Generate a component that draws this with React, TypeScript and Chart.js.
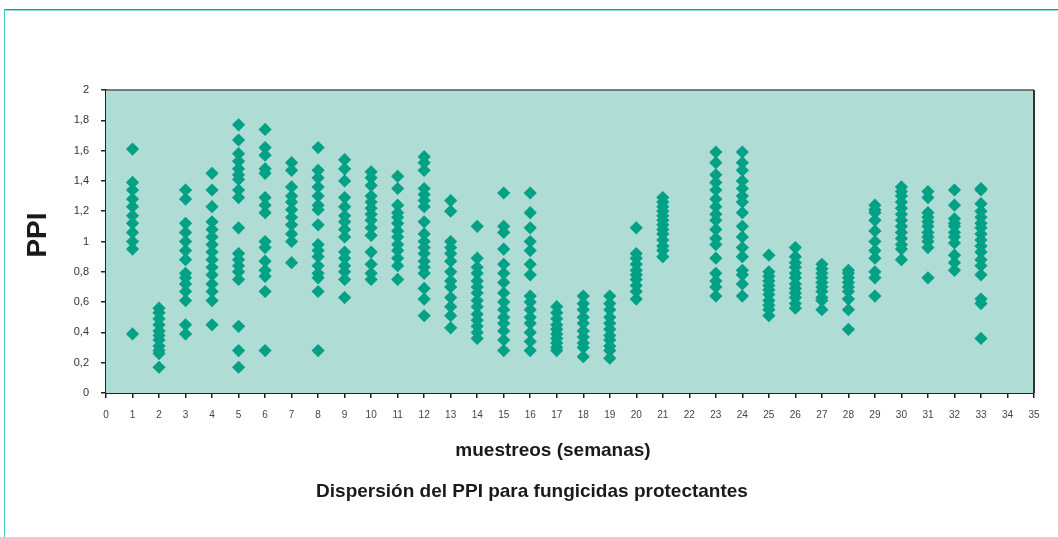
import React, { useEffect, useRef } from "react";
import { Chart, registerables } from "chart.js";

Chart.register(...registerables);

// Sampling weeks (x) and PPI values read for each week
const xTicks = Array.from({ length: 36 }, (_, i) => i);
const yTicks = [0, 0.2, 0.4, 0.6, 0.8, 1, 1.2, 1.4, 1.6, 1.8, 2];

const w01 = [1.61, 1.39, 1.34, 1.28, 1.23, 1.17, 1.12, 1.06, 1.0, 0.95, 0.39];
const w02 = [0.56, 0.53, 0.49, 0.45, 0.41, 0.38, 0.35, 0.31, 0.28, 0.26, 0.17];
const w03 = [1.34, 1.28, 1.12, 1.06, 1.0, 0.94, 0.88, 0.79, 0.76, 0.72, 0.67, 0.61, 0.45, 0.39];
const w04 = [1.45, 1.34, 1.23, 1.13, 1.08, 1.03, 0.98, 0.93, 0.88, 0.83, 0.78, 0.72, 0.67, 0.61, 0.45];
const w05 = [1.77, 1.67, 1.58, 1.53, 1.48, 1.44, 1.41, 1.34, 1.29, 1.09, 0.92, 0.88, 0.84, 0.8, 0.75, 0.44, 0.28, 0.17];
const w06 = [1.74, 1.62, 1.57, 1.48, 1.45, 1.29, 1.24, 1.19, 1.0, 0.96, 0.87, 0.81, 0.77, 0.67, 0.28];
const w07 = [1.52, 1.47, 1.36, 1.3, 1.26, 1.21, 1.16, 1.11, 1.05, 1.0, 0.86];
const w08 = [1.62, 1.47, 1.42, 1.36, 1.3, 1.24, 1.21, 1.11, 0.98, 0.94, 0.9, 0.84, 0.79, 0.76, 0.67, 0.28];
const w09 = [1.54, 1.48, 1.4, 1.29, 1.23, 1.17, 1.13, 1.08, 1.03, 0.93, 0.89, 0.84, 0.8, 0.75, 0.63];
const w10 = [1.46, 1.42, 1.37, 1.3, 1.26, 1.22, 1.18, 1.14, 1.09, 1.04, 0.93, 0.85, 0.79, 0.75];
const w11 = [1.43, 1.35, 1.24, 1.19, 1.16, 1.12, 1.07, 1.03, 0.98, 0.94, 0.89, 0.84, 0.75];
const w12 = [1.56, 1.52, 1.47, 1.35, 1.31, 1.27, 1.23, 1.13, 1.05, 1.0, 0.96, 0.92, 0.87, 0.83, 0.79, 0.69, 0.62, 0.51];
const w13 = [1.27, 1.2, 1.0, 0.96, 0.92, 0.87, 0.8, 0.74, 0.7, 0.63, 0.57, 0.51, 0.43];
const w14 = [1.1, 0.89, 0.83, 0.79, 0.74, 0.7, 0.66, 0.61, 0.57, 0.52, 0.48, 0.44, 0.4, 0.36];
const w15 = [1.32, 1.1, 1.06, 0.95, 0.85, 0.79, 0.73, 0.66, 0.6, 0.55, 0.5, 0.46, 0.41, 0.35, 0.28];
const w16 = [1.32, 1.19, 1.09, 1.0, 0.94, 0.85, 0.78, 0.64, 0.6, 0.55, 0.5, 0.46, 0.4, 0.34, 0.28];
const w17 = [0.57, 0.53, 0.49, 0.45, 0.42, 0.39, 0.36, 0.33, 0.3, 0.28];
const w18 = [0.64, 0.59, 0.55, 0.5, 0.46, 0.41, 0.37, 0.33, 0.3, 0.24];
const w19 = [0.64, 0.59, 0.55, 0.5, 0.46, 0.42, 0.38, 0.35, 0.31, 0.28, 0.23];
const w20 = [1.09, 0.92, 0.89, 0.85, 0.81, 0.78, 0.75, 0.71, 0.67, 0.62];
const w21 = [1.29, 1.26, 1.23, 1.2, 1.17, 1.14, 1.11, 1.08, 1.05, 1.01, 0.97, 0.94, 0.9];
const w23 = [1.59, 1.52, 1.44, 1.39, 1.34, 1.28, 1.23, 1.18, 1.14, 1.08, 1.02, 0.98, 0.89, 0.79, 0.74, 0.7, 0.64];
const w24 = [1.59, 1.52, 1.47, 1.4, 1.35, 1.3, 1.26, 1.19, 1.1, 1.03, 0.96, 0.9, 0.81, 0.78, 0.72, 0.64];
const w25 = [0.91, 0.8, 0.77, 0.74, 0.71, 0.68, 0.65, 0.61, 0.58, 0.55, 0.51];
const w26 = [0.96, 0.9, 0.86, 0.83, 0.79, 0.76, 0.72, 0.69, 0.66, 0.63, 0.59, 0.56];
const w27 = [0.85, 0.82, 0.79, 0.76, 0.73, 0.7, 0.67, 0.63, 0.61, 0.55];
const w28 = [0.81, 0.79, 0.76, 0.73, 0.7, 0.67, 0.62, 0.55, 0.42];
const w29 = [1.24, 1.21, 1.19, 1.14, 1.07, 1.0, 0.94, 0.89, 0.8, 0.76, 0.64];
const w30 = [1.36, 1.33, 1.3, 1.26, 1.22, 1.18, 1.14, 1.1, 1.06, 1.02, 0.98, 0.95, 0.88];
const w31 = [1.33, 1.29, 1.19, 1.16, 1.13, 1.1, 1.06, 1.03, 1.0, 0.96, 0.76];
const w32 = [1.34, 1.24, 1.15, 1.12, 1.1, 1.06, 1.03, 0.99, 0.91, 0.86, 0.81];
const w33 = [1.35, 1.34, 1.25, 1.2, 1.16, 1.12, 1.09, 1.05, 1.01, 0.97, 0.93, 0.88, 0.84, 0.78, 0.62, 0.59, 0.36];

const weeks = [1, 2, 3, 4, 5, 6, 7, 8, 9, 10, 11, 12, 13, 14, 15, 16, 17, 18, 19, 20, 21, 23, 24, 25, 26, 27, 28, 29, 30, 31, 32, 33];
const weekValues = [w01, w02, w03, w04, w05, w06, w07, w08, w09, w10, w11, w12, w13, w14, w15, w16, w17, w18, w19, w20, w21, w23, w24, w25, w26, w27, w28, w29, w30, w31, w32, w33];

const yAxisTitle = "PPI";
const xAxisTitle = "muestreos (semanas)";
const chartTitle = "Dispersión del PPI para fungicidas protectantes";

const points = weeks.flatMap((w, i) => weekValues[i].map((v) => ({ x: w, y: v })));

const plotDecor = {
  id: "plotDecor",
  beforeDatasetsDraw(chart: any) {
    const { ctx, chartArea: a } = chart;
    ctx.save();
    ctx.fillStyle = "#b0dcd6";
    ctx.fillRect(a.left, a.top, a.right - a.left, a.bottom - a.top);
    ctx.restore();
  },
  afterDraw(chart: any) {
    const { ctx, chartArea: a } = chart;
    ctx.save();
    // top and right frame of the plot area
    ctx.strokeStyle = "#555";
    ctx.lineWidth = 1.5;
    ctx.beginPath();
    ctx.moveTo(a.left, a.top);
    ctx.lineTo(a.right, a.top);
    ctx.stroke();
    ctx.strokeStyle = "#333";
    ctx.lineWidth = 2;
    ctx.beginPath();
    ctx.moveTo(a.right, a.top);
    ctx.lineTo(a.right, a.bottom);
    ctx.stroke();

    ctx.fillStyle = "#1a1a1a";
    ctx.textAlign = "center";
    ctx.textBaseline = "middle";
    ctx.font = "bold 19px 'Liberation Sans', Arial, sans-serif";
    ctx.fillText(xAxisTitle, 553, 451);
    ctx.font = "bold 19px 'Liberation Sans', Arial, sans-serif";
    ctx.fillText(chartTitle, 532, 492);

    ctx.translate(38, 235);
    ctx.rotate(-Math.PI / 2);
    ctx.font = "bold 28px 'Liberation Sans', Arial, sans-serif";
    ctx.fillText(yAxisTitle, 0, 0);
    ctx.restore();
  },
};

export default function App() {
  const ref = useRef<HTMLCanvasElement | null>(null);

  useEffect(() => {
    if (!ref.current) return;
    const chart = new Chart(ref.current, {
      type: "scatter",
      data: {
        datasets: [
          {
            data: points,
            pointStyle: "rectRot",
            pointRadius: 6.6,
            pointHoverRadius: 6.6,
            pointBackgroundColor: "#00a185",
            pointBorderWidth: 0,
            borderWidth: 0,
          },
        ],
      },
      options: {
        animation: false,
        responsive: false,
        events: [],
        layout: { padding: { top: 90, right: 24, left: 0, bottom: 0 } },
        plugins: { legend: { display: false }, tooltip: { enabled: false }, title: { display: false } },
        scales: {
          x: {
            type: "linear",
            min: 0,
            max: 35,
            afterFit: (s: any) => {
              s.height = 144;
            },
            afterBuildTicks: (s: any) => {
              s.ticks = xTicks.map((v) => ({ value: v }));
            },
            ticks: {
              autoSkip: false,
              maxRotation: 0,
              padding: 11,
              color: "#444",
              font: { size: 10, family: "'Liberation Sans Narrow', 'Liberation Sans', Arial, sans-serif" },
              callback: (v: any) => String(v),
            },
            grid: { drawOnChartArea: false, drawTicks: true, tickLength: 5, color: "#222", lineWidth: 1.5 },
            border: { display: true, color: "#222", width: 2 },
          },
          y: {
            min: 0,
            max: 2,
            afterFit: (s: any) => {
              s.width = 106;
            },
            afterBuildTicks: (s: any) => {
              s.ticks = yTicks.map((v) => ({ value: v }));
            },
            ticks: {
              padding: 12,
              color: "#333",
              font: { size: 11, family: "'Liberation Sans', Arial, sans-serif" },
              callback: (v: any) => String(Math.round(v * 10) / 10).replace(".", ","),
            },
            grid: { drawOnChartArea: false, drawTicks: true, tickLength: 5, color: "#222", lineWidth: 1.5 },
            border: { display: true, color: "#222", width: 1.5 },
          },
        },
      },
      plugins: [plotDecor],
    });
    return () => chart.destroy();
  }, []);

  return (
    <div style={{ position: "absolute", left: 0, top: 0, width: 1058, height: 537, background: "#fff", overflow: "hidden" }}>
      <div style={{ position: "absolute", left: 4, top: 9, right: -2, height: 1, background: "#1e9a88" }} />
      <div style={{ position: "absolute", left: 4, top: 10, right: -2, height: 1, background: "#8fe0d2" }} />
      <div style={{ position: "absolute", left: 4, top: 9, width: 1, bottom: -2, background: "#3ccfb6" }} />
      <canvas ref={ref} width={1058} height={537} style={{ position: "absolute", left: 0, top: 0 }} />
    </div>
  );
}
